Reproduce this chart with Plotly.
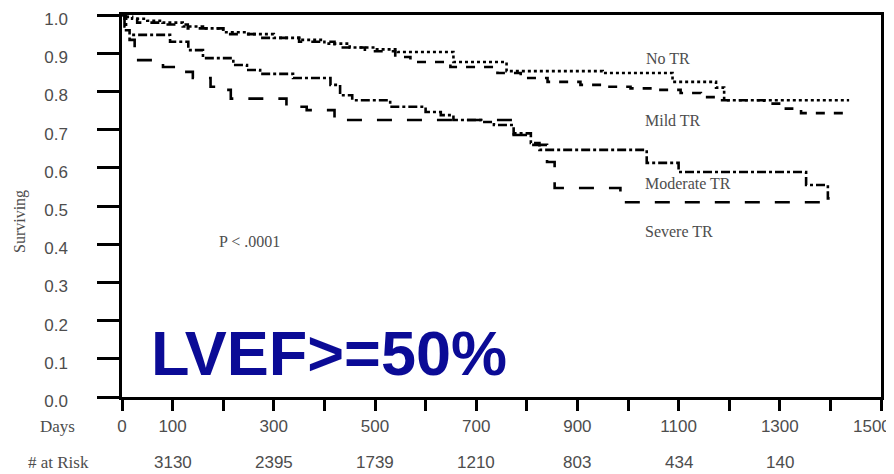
import plotly.graph_objects as go

# ---- data ----
no_tr_days = [0, 5, 20, 50, 80, 120, 160, 200, 250, 300, 350, 400, 450, 500, 545, 655, 760, 950, 1088, 1174, 1190, 1437]
no_tr_surv = [1.0, 0.995, 0.99, 0.985, 0.98, 0.97, 0.965, 0.955, 0.95, 0.94, 0.935, 0.925, 0.915, 0.91, 0.903, 0.877, 0.853, 0.848, 0.825, 0.81, 0.777, 0.777]

mild_days = [0, 5, 30, 80, 130, 200, 270, 350, 420, 480, 540, 570, 649, 742, 788, 841, 906, 960, 1005, 1055, 1104, 1144, 1183, 1269, 1312, 1342, 1427]
mild_surv = [1.0, 0.99, 0.98, 0.975, 0.965, 0.95, 0.94, 0.93, 0.915, 0.905, 0.89, 0.877, 0.864, 0.848, 0.835, 0.825, 0.817, 0.812, 0.808, 0.804, 0.796, 0.785, 0.777, 0.768, 0.755, 0.743, 0.743]

moderate_days = [0, 8, 15, 95, 131, 160, 220, 247, 273, 338, 412, 431, 455, 530, 600, 630, 655, 710, 735, 774, 808, 825, 1037, 1100, 1352, 1395, 1400]
moderate_surv = [1.0, 0.96, 0.948, 0.93, 0.908, 0.887, 0.869, 0.856, 0.846, 0.835, 0.817, 0.79, 0.777, 0.76, 0.746, 0.738, 0.725, 0.72, 0.712, 0.69, 0.665, 0.647, 0.613, 0.589, 0.555, 0.52, 0.52]

severe_days = [0, 5, 15, 25, 81, 121, 140, 175, 190, 215, 325, 365, 420, 774, 808, 840, 855, 985, 1401]
severe_surv = [1.0, 0.97, 0.935, 0.882, 0.864, 0.851, 0.835, 0.812, 0.804, 0.781, 0.76, 0.751, 0.725, 0.686, 0.66, 0.615, 0.547, 0.51, 0.51]

series_names = ["No TR", "Mild TR", "Moderate TR", "Severe TR"]
series_dashes = ["dot", "dash", "dashdot", "longdash"]

tick_days = list(range(0, 1600, 100))
tick_labels = ["0", "100", "", "300", "", "500", "", "700", "", "900", "", "1100", "", "1300", "", ""]
last_tick_label = "1500"

risk_days = [100, 300, 500, 700, 900, 1100, 1300]
risk_counts = ["3130", "2395", "1739", "1210", "803", "434", "140"]

y_ticks = [i / 10 for i in range(11)]
y_labels = [f"{v:.1f}" for v in y_ticks]

label_days = [1031, 1029, 1029, 1029]
label_surv = [0.887, 0.725, 0.56, 0.432]

# ---- figure ----
OFF = 8  # page body margin
W, H = 894 - OFF, 474 - OFF
ml, mr, mt, mb = 122 - OFF, 894 - 881, 15 - OFF, 474 - 397
pw, ph = W - ml - mr, H - mt - mb


def px_x(p):
    # page pixel x -> paper fraction
    return (p - OFF - ml) / pw


def px_y(p):
    # page pixel y -> paper fraction
    return (H - mb - (p - OFF)) / ph


fig = go.Figure()
all_days = [no_tr_days, mild_days, moderate_days, severe_days]
all_surv = [no_tr_surv, mild_surv, moderate_surv, severe_surv]
for name, d, s, dash in zip(series_names, all_days, all_surv, series_dashes):
    fig.add_trace(go.Scatter(x=d, y=s, mode="lines", name=name,
                             line=dict(color="black", width=2.6, dash=dash, shape="hv"),
                             showlegend=False, hoverinfo="skip"))

serif = "Liberation Serif, Times New Roman, serif"
sans = "Liberation Sans, Arial, sans-serif"
gray = "#4d4d4d"

for name, dx, sy in zip(series_names, label_days, label_surv):
    fig.add_annotation(x=dx, y=sy, xref="x", yref="y", text=name, showarrow=False,
                       xanchor="left", yanchor="middle",
                       font=dict(family=serif, size=16, color=gray))
fig.add_annotation(x=188, y=0.406, xref="x", yref="y", text="P < .0001", showarrow=False,
                   xanchor="left", yanchor="middle", font=dict(family=serif, size=16, color=gray))
for d, c in zip(risk_days, risk_counts):
    fig.add_annotation(x=d, y=px_y(462), xref="x", yref="paper", text=c, showarrow=False,
                       xanchor="center", yanchor="middle",
                       font=dict(family=sans, size=17, color=gray))
fig.add_annotation(x=px_x(893), y=px_y(427), xref="paper", yref="paper", text=last_tick_label,
                   showarrow=False, xanchor="right", yanchor="middle",
                   font=dict(family=sans, size=17, color=gray))
fig.add_annotation(x=px_x(57), y=px_y(427), xref="paper", yref="paper", text="Days",
                   showarrow=False, xanchor="center", yanchor="middle",
                   font=dict(family=serif, size=17, color=gray))
fig.add_annotation(x=px_x(59), y=px_y(462), xref="paper", yref="paper", text="# at Risk",
                   showarrow=False, xanchor="center", yanchor="middle",
                   font=dict(family=serif, size=17, color=gray))
fig.add_annotation(x=px_x(20), y=px_y(222), xref="paper", yref="paper", text="Surviving",
                   showarrow=False, textangle=-90, xanchor="center", yanchor="middle",
                   font=dict(family=serif, size=16, color=gray))
fig.add_annotation(x=px_x(149), y=px_y(353), xref="paper", yref="paper", text="<b>LVEF&gt;=50%</b>",
                   showarrow=False, xanchor="left", yanchor="middle",
                   font=dict(family=sans, size=63, color="#0b0b96"))

fig.update_xaxes(range=[0, 1500], tickmode="array", tickvals=tick_days, ticktext=tick_labels,
                 ticks="outside", ticklen=11, tickwidth=2.5, tickcolor="black",
                 showline=True, linewidth=2.5, linecolor="black", mirror=True,
                 showgrid=False, zeroline=False, ticklabelstandoff=1, automargin=False,
                 ticklabeloverflow="allow",
                 tickfont=dict(family=sans, size=17, color=gray))
fig.update_yaxes(range=[0, 1.0], tickmode="array", tickvals=y_ticks, ticktext=y_labels,
                 ticks="outside", ticklen=22, tickwidth=2.5, tickcolor="black",
                 showline=True, linewidth=2.5, linecolor="black", mirror=True,
                 showgrid=False, zeroline=False, ticklabelstandoff=26, ticklabelshift=4,
                 automargin=False, ticklabeloverflow="allow",
                 tickfont=dict(family=sans, size=17, color=gray))

fig.update_layout(width=W, height=H, margin=dict(l=ml, r=mr, t=mt, b=mb, autoexpand=False),
                  plot_bgcolor="white", paper_bgcolor="white")

fig.write_html("out.html")
